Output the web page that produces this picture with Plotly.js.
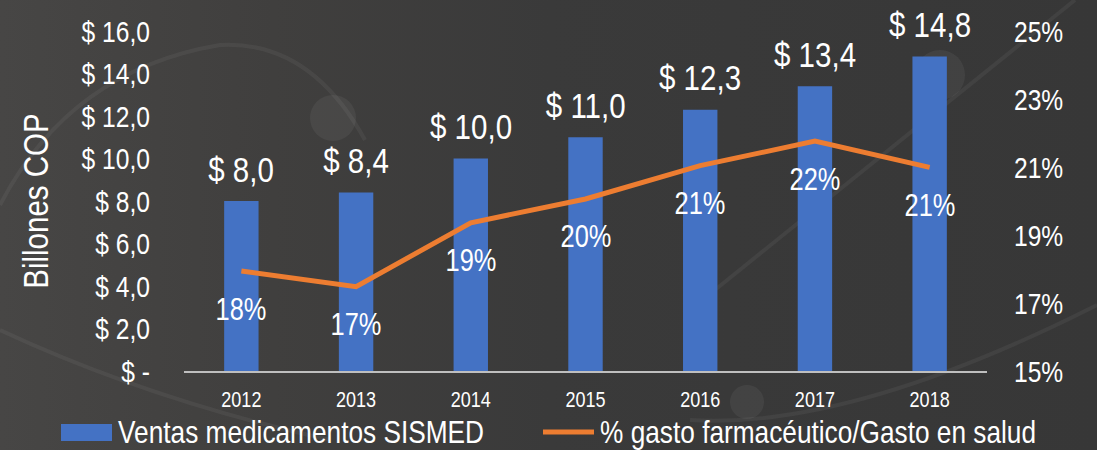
<!DOCTYPE html>
<html>
<head>
<meta charset="utf-8">
<script src="https://cdn.plot.ly/plotly-3.0.1.min.js"></script>
<style>
  html, body { margin: 0; padding: 0; }
  body { width: 1097px; height: 450px; overflow: hidden;
         background: linear-gradient(90deg, #474645 0%, #403f3e 25%, #3a3a3a 50%, #373737 100%); }
  #bg { position: absolute; left: 0; top: 0; }
  #chart { position: absolute; left: 0; top: 0; width: 1097px; height: 450px; }
</style>
</head>
<body>
<svg id="bg" width="1097" height="450">
  <g fill="none" stroke="rgba(255,255,255,0.05)" stroke-width="4">
    <path d="M 0,205 Q 70,70 220,45 Q 310,40 365,140"/>
    <path d="M 690,310 L 1075,0"/>
    <path d="M 690,420 Q 850,430 1097,305"/>
    <path d="M 0,330 Q 150,400 330,440"/>
  </g>
  <g fill="rgba(255,255,255,0.055)">
    <circle cx="333" cy="118" r="23"/>
    <circle cx="940" cy="75" r="25"/>
    <circle cx="747" cy="402" r="17"/>
  </g>
</svg>
<div id="chart"></div>
<script>
// ---- data ----
const years = ['2012', '2013', '2014', '2015', '2016', '2017', '2018'];
const ventas = [8.0, 8.4, 10.0, 11.0, 12.3, 13.4, 14.8];
const gastoPct = [17.94, 17.48, 19.36, 20.06, 21.04, 21.76, 20.99];
const ventasLabels = ['$ 8,0', '$ 8,4', '$ 10,0', '$ 11,0', '$ 12,3', '$ 13,4', '$ 14,8'];
const pctLabels = ['18%', '17%', '19%', '20%', '21%', '22%', '21%'];
const yTickVals = [0, 2, 4, 6, 8, 10, 12, 14, 16];
const yTickText = ['$ -', '$ 2,0', '$ 4,0', '$ 6,0', '$ 8,0', '$ 10,0', '$ 12,0', '$ 14,0', '$ 16,0'];
const y2TickVals = [15, 17, 19, 21, 23, 25];
const y2TickText = ['15%', '17%', '19%', '21%', '23%', '25%'];
const seriesNames = ['Ventas medicamentos SISMED', '% gasto farmacéutico/Gasto en salud'];

const FONT = '"Liberation Sans", Arial, sans-serif';
const NARROW = 0.82; // horizontal condensation of all texts
const BLUE = '#4472C4', ORANGE = '#ED7D31', TXT = '#FFFFFF';

// layout geometry (pixels)
const W = 1097, H = 450, L = 184, R = 987, T = 31, B = 371;
const px = x => (x - L) / (R - L);
const py = y => (B - y) / (B - T);

const traces = [
  { type: 'bar', x: years, y: ventas, name: seriesNames[0], marker: { color: BLUE },
    width: 0.3, hoverinfo: 'skip' },
  { type: 'scatter', mode: 'lines', x: years, y: gastoPct, yaxis: 'y2', name: seriesNames[1],
    line: { color: ORANGE, width: 5 }, hoverinfo: 'skip' }
];

const annotations = [];
years.forEach((yr, i) => {
  annotations.push({ xref: 'x', yref: 'y', x: i, y: ventas[i], text: ventasLabels[i],
    showarrow: false, yshift: 32, yanchor: 'middle', font: { family: FONT, size: 36, color: TXT } });
  annotations.push({ xref: 'x', yref: 'y2', x: i, y: gastoPct[i], text: pctLabels[i],
    showarrow: false, yshift: -38, yanchor: 'middle', font: { family: FONT, size: 31, color: TXT } });
});
// custom legend texts
annotations.push({ xref: 'paper', yref: 'paper', x: px(116), y: py(432), xanchor: 'left', yanchor: 'middle',
  text: seriesNames[0], showarrow: false, font: { family: FONT, size: 32, color: TXT } });
annotations.push({ xref: 'paper', yref: 'paper', x: px(598), y: py(432), xanchor: 'left', yanchor: 'middle',
  text: seriesNames[1], showarrow: false, font: { family: FONT, size: 32, color: TXT } });

const shapes = [
  { type: 'rect', xref: 'paper', yref: 'paper', x0: px(61), x1: px(112), y0: py(441), y1: py(424),
    fillcolor: BLUE, line: { width: 0 } },
  { type: 'line', xref: 'paper', yref: 'paper', x0: px(543), x1: px(594), y0: py(432), y1: py(432),
    line: { color: ORANGE, width: 5 } }
];

const layout = {
  width: W, height: H,
  margin: { l: L, r: W - R, t: T, b: H - B, pad: 0 },
  paper_bgcolor: 'rgba(0,0,0,0)', plot_bgcolor: 'rgba(0,0,0,0)',
  showlegend: false,
  font: { family: FONT, color: TXT },
  xaxis: { type: 'category', range: [-0.5, years.length - 0.5], showgrid: false, zeroline: false,
    showline: true, linecolor: '#BFBFBF', linewidth: 2, ticks: '', ticklabelstandoff: 8,
    tickfont: { family: FONT, size: 22, color: TXT }, fixedrange: true },
  yaxis: { range: [0, 16], tickvals: yTickVals, ticktext: yTickText, showgrid: false, zeroline: false,
    showline: false, ticks: '', ticklabelstandoff: 33, tickfont: { family: FONT, size: 30, color: TXT },
    title: { text: 'Billones COP', standoff: 6, font: { family: FONT, size: 36, color: TXT } },
    fixedrange: true },
  yaxis2: { range: [15, 25], overlaying: 'y', side: 'right', tickvals: y2TickVals, ticktext: y2TickText,
    showgrid: false, zeroline: false, showline: false, ticks: '', ticklabelstandoff: 26,
    tickfont: { family: FONT, size: 30, color: TXT }, fixedrange: true },
  annotations: annotations,
  shapes: shapes
};

function condense(gd) {
  gd.querySelectorAll('svg text').forEach(t => {
    if (!t.textContent) return;
    const bb = t.getBBox();
    let anchor = t.getAttribute('text-anchor') || 'start';
    const ann = t.closest('.annotation');
    if (ann) {
      const idx = +ann.getAttribute('data-index');
      const xa = (layout.annotations[idx] || {}).xanchor;
      if (xa === 'left') anchor = 'start';
      else if (xa === 'right') anchor = 'end';
    }
    let ax = bb.x;
    if (anchor === 'middle') ax = bb.x + bb.width / 2;
    else if (anchor === 'end') ax = bb.x + bb.width;
    const prev = t.getAttribute('transform') || '';
    t.setAttribute('transform', (prev + ' translate(' + ax + ',0) scale(' + NARROW + ',1) translate(' + (-ax) + ',0)').trim());
  });
}

Plotly.newPlot('chart', traces, layout, { displayModeBar: false, staticPlot: true })
  .then(gd => condense(gd));
</script>
</body>
</html>
